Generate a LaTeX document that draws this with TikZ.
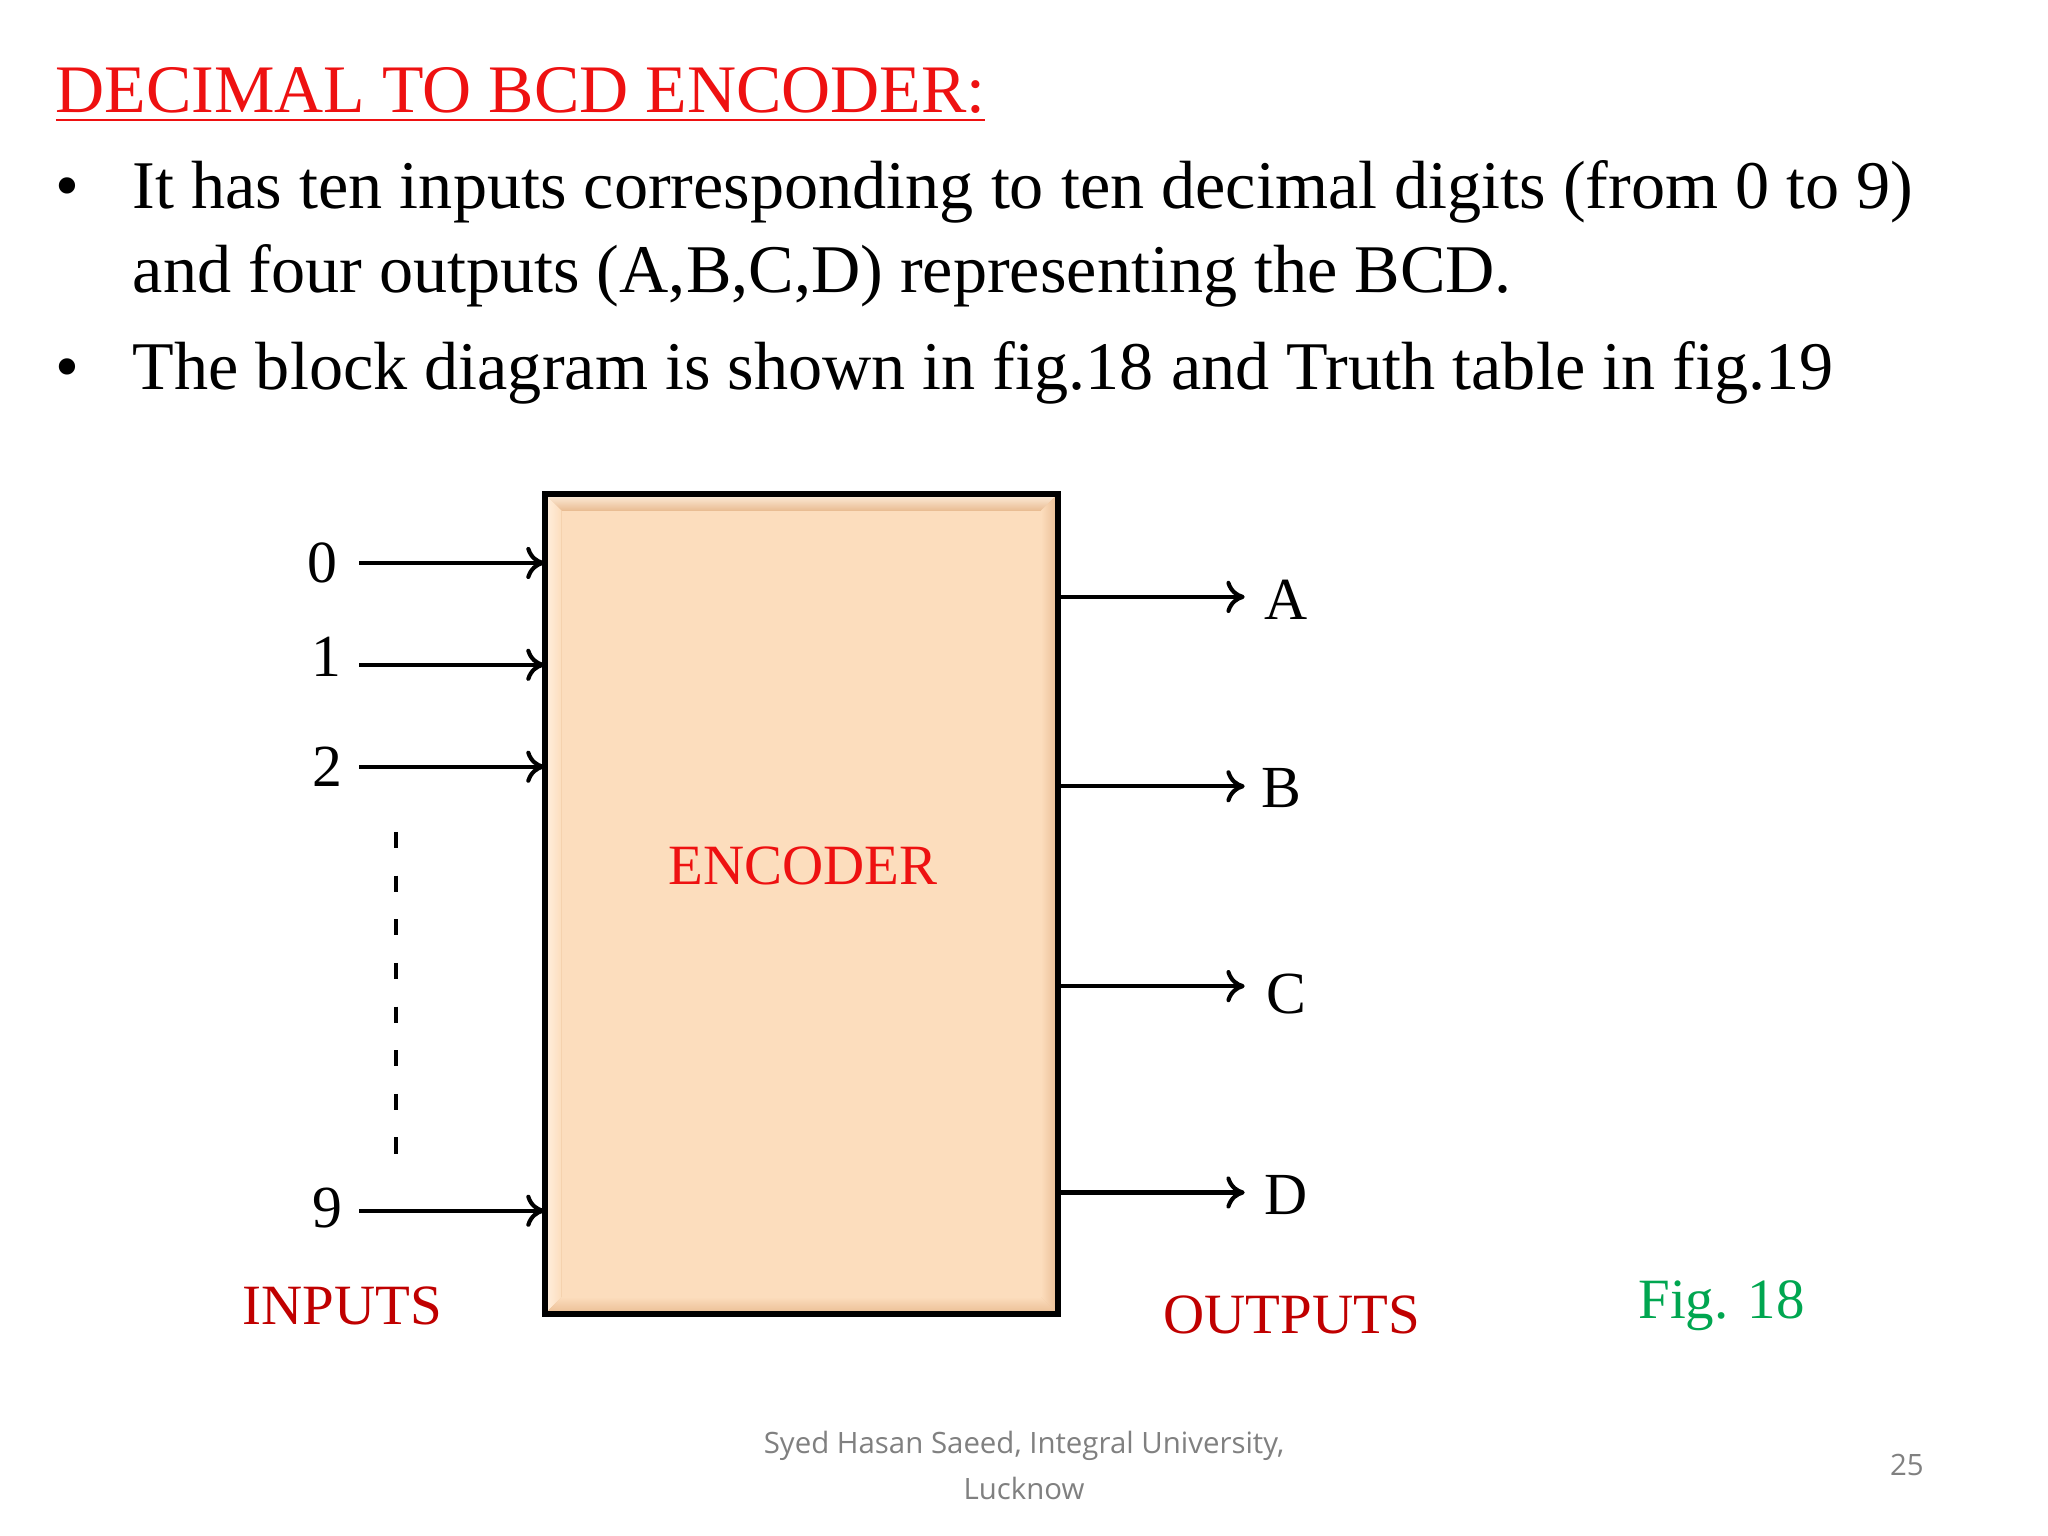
\documentclass[tikz,border=0pt]{standalone}
\usepackage{fontspec}
\setmainfont{Liberation Serif}
\newfontfamily\footfont{Open Sans}
\usetikzlibrary{arrows.meta}
\definecolor{peach}{HTML}{FCDDBD}
\definecolor{peachdark}{HTML}{E9BC92}
\definecolor{peachlight}{HTML}{FFF0E0}
\definecolor{titlered}{HTML}{EE1111}
\definecolor{labred}{HTML}{C00000}
\definecolor{figgreen}{HTML}{00A650}
\tikzset{
  sig/.style={line width=0.9pt,-{To[length=4pt,width=7pt]}},
  lab/.style={font=\fontsize{13}{16}\selectfont,inner sep=0pt},
  redlab/.style={font=\fontsize{12.4}{15}\selectfont,text=labred,inner sep=0pt},
  bullet/.style={font=\fontsize{14.85}{18}\selectfont,anchor=base west,inner sep=0pt}
}
\begin{document}
\begin{tikzpicture}[x=0.01cm,y=-0.01cm]
\useasboundingbox (0,0) rectangle (1568,1176);
\fill[white] (0,0) rectangle (1568,1176);
% title
\node[anchor=base west,inner sep=0pt,text=titlered,font=\fontsize{14.8}{18}\selectfont] (title) at (42,86) {\underline{DECIMAL TO BCD ENCODER:}};
\node[bullet] (b1) at (42,160) {•};
\node[bullet] (t1) at (101,160) {It has ten inputs corresponding to ten decimal digits (from 0 to 9)};
\node[bullet] (t2) at (101,224) {and four outputs (A,B,C,D) representing the BCD.};
\node[bullet] (b2) at (42,298) {•};
\node[bullet] (t3) at (101,298) {The block diagram is shown in fig.18 and Truth table in fig.19};
% box
\fill[peachdark] (417,378) rectangle (810,1006);
\shade[top color=peachlight,bottom color=peachdark] (417,378) -- (810,378) -- (797,391) -- (430,391) -- cycle;
\shade[left color=peachlight,right color=peach] (417,378) -- (430,391) -- (430,993) -- (417,1006) -- cycle;
\shade[left color=peach,right color=peachdark] (810,378) -- (797,391) -- (797,993) -- (810,1006) -- cycle;
\shade[top color=peach,bottom color=peachdark] (417,1006) -- (430,993) -- (797,993) -- (810,1006) -- cycle;
\fill[peach] (430,391) rectangle (797,993);
\draw[line width=1.3pt] (417,378) rectangle (810,1006);
\node[draw=none,minimum width=3.93cm,minimum height=6.28cm,inner sep=0pt] (enc) at (613.5,692) {};
\node[redlab,text=titlered] (enct) at (615,663) {ENCODER};
% inputs
\node[lab] (i0) at (247,431) {0};
\node[lab] (i1) at (250,503) {1};
\node[lab] (i2) at (251,587) {2};
\node[lab] (i9) at (251,925) {9};
\coordinate (e0) at (417,431);
\coordinate (e1) at (417,509);
\coordinate (e2) at (417,587);
\coordinate (e9) at (417,927);
\draw[sig] (275,431) -- (e0);
\draw[sig] (275,509) -- (e1);
\draw[sig] (275,587) -- (e2);
\draw[sig] (275,927) -- (e9);
\draw[line width=0.9pt,dash pattern=on 3.5pt off 6pt] (303,637) -- (303,885);
% outputs
\node[lab] (oA) at (985,459) {A};
\node[lab] (oB) at (981,603) {B};
\node[lab] (oC) at (985,761) {C};
\node[lab] (oD) at (985,915) {D};
\draw[sig] (810,457) -- (953,457);
\draw[sig] (810,602) -- (953,602);
\draw[sig] (810,755) -- (953,755);
\draw[sig] (810,913) -- (953,913);
\node[redlab] (inp) at (262,1000) {INPUTS};
\node[redlab] (outp) at (989,1007) {OUTPUTS};
\node[redlab,text=figgreen] (fig) at (1318,1000) {Fig. 18};
% footer
\node[font=\footfont\fontsize{6.4}{9}\selectfont,text=gray,align=center,inner sep=0pt] (foot) at (784,1122) {Syed Hasan Saeed, Integral University,\\[1pt]Lucknow};
\node[font=\footfont\fontsize{6.4}{9}\selectfont,text=gray,inner sep=0pt] (pg) at (1460,1122) {25};
\end{tikzpicture}
\end{document}
